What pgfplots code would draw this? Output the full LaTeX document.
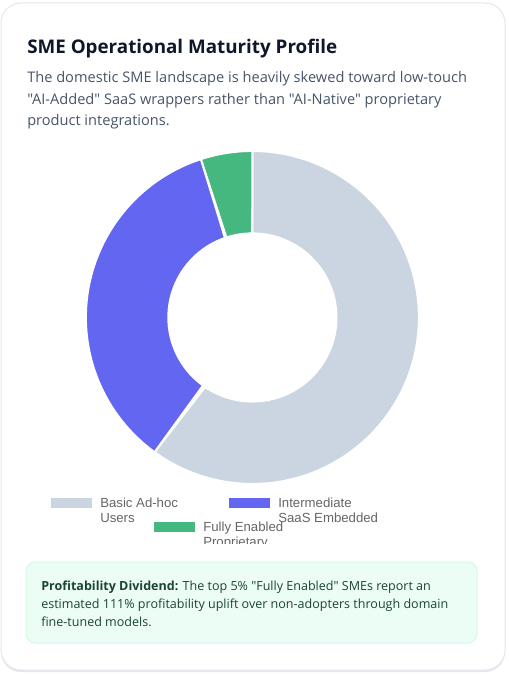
\documentclass[border=0pt]{standalone}
\usepackage{pgfplots}
\pgfplotsset{compat=1.18}
\usepackage{pgfplotstable}
\usepackage{fontspec}
\setmainfont{Open Sans}[Ligatures=TeXOff]
\newfontfamily\legendfont{Liberation Sans}
\definecolor{cgray}{HTML}{CBD5E1}
\definecolor{cpurple}{HTML}{6366F1}
\definecolor{cgreen}{HTML}{45B880}
\definecolor{ctitle}{HTML}{0F172A}
\definecolor{csub}{HTML}{475569}
\definecolor{cborder}{HTML}{E2E8F0}
\definecolor{cshadow}{HTML}{E5E7EB}
\definecolor{cboxfill}{HTML}{ECFDF5}
\definecolor{cboxline}{HTML}{D1FAE5}
\definecolor{cboxtext}{HTML}{1B4436}
\definecolor{clegend}{HTML}{666666}

\pgfplotstableread{
label value
Basic 60
Intermediate 35
Fully 5
}\shares

% one ring segment: start angle, end angle (clockwise from 12 o'clock), colour
\newcommand\ringslice[3]{%
  \addplot[fill=#3, draw=white, line width=1.5pt, line join=round,
           domain=0:2, samples=241, variable=\t]
   ({(\t<1.0005 ? 1 : 0.505)*sin(\t<1.0005 ? #1+(#2-#1)*min(\t,1) : #2-(#2-#1)*(\t-1))},
    {(\t<1.0005 ? 1 : 0.505)*cos(\t<1.0005 ? #1+(#2-#1)*min(\t,1) : #2-(#2-#1)*(\t-1))}) -- cycle;
}

\begin{document}
\begin{tikzpicture}
\pgfplotstablegetelem{0}{value}\of\shares \let\va\pgfplotsretval
\pgfplotstablegetelem{1}{value}\of\shares \let\vb\pgfplotsretval
\pgfplotstablegetelem{2}{value}\of\shares \let\vc\pgfplotsretval
\pgfmathsetmacro\tot{\va+\vb+\vc}
\pgfmathsetmacro\angA{\va/\tot*360}
\pgfmathsetmacro\angB{(\va+\vb)/\tot*360}

\begin{scope}[x=0.75pt,y=-0.75pt]
  % page
  \fill[white] (0,0) rectangle (508,674);
  % shadow + card
  \fill[cshadow] (1,5) [rounded corners=15] rectangle (505,672);
  \filldraw[fill=white, draw=cborder, line width=0.75pt, rounded corners=15] (1,3) rectangle (505,670);
  % title and subtitle
  \node[anchor=base west, inner sep=0, text=ctitle, font=\fontsize{14.1pt}{16pt}\selectfont\bfseries] at (27,53.3) {SME Operational Maturity Profile};
  \begin{scope}[every node/.style={anchor=base west, inner sep=0, text=csub, font=\fontsize{10.95pt}{13pt}\selectfont}]
    \node at (27,82.3) {The domestic SME landscape is heavily skewed toward low-touch};
    \node at (27,104.3) {"AI-Added" SaaS wrappers rather than "AI-Native" proprietary};
    \node at (27,125.5) {product integrations.};
  \end{scope}
  % legend
  \fill[cgray] (51,498) rectangle (92,508);
  \fill[cpurple] (229,498) rectangle (270,508);
  \fill[cgreen] (154,522) rectangle (195,532);
  \begin{scope}[every node/.style={anchor=base west, inner sep=0, text=clegend, font=\legendfont\fontsize{9.9pt}{11pt}\selectfont}]
    \node at (100,507) {Basic Ad-hoc};
    \node at (100,522.5) {Users};
    \node at (278,507) {Intermediate};
    \node at (278,522.5) {SaaS Embedded};
    \node at (203,531) {Fully Enabled};
    \begin{scope}
      \clip (150,534) rectangle (400,543.5);
      \node at (203,546.5) {Proprietary};
    \end{scope}
  \end{scope}
  % callout
  \filldraw[fill=cboxfill, draw=cboxline, line width=0.75pt, rounded corners=7] (26,562) rectangle (477,643);
  \begin{scope}[every node/.style={anchor=base west, inner sep=0, text=cboxtext, font=\fontsize{9.4pt}{11pt}\selectfont}]
    \node at (41,590) {\textbf{Profitability Dividend:} The top 5\% "Fully Enabled" SMEs report an};
    \node at (41,608.3) {estimated 111\% profitability uplift over non-adopters through domain};
    \node at (41,626.5) {fine-tuned models.};
  \end{scope}
\end{scope}

\begin{axis}[at={(189.3pt,-238.1pt)}, anchor=center, scale only axis,
  width=249.75pt, height=249.75pt, xmin=-1, xmax=1, ymin=-1, ymax=1,
  hide axis, clip=false]
  \ringslice{0}{\angA}{cgray}
  \ringslice{\angA}{\angB}{cpurple}
  \ringslice{\angB}{360}{cgreen}
\end{axis}
\end{tikzpicture}
\end{document}
